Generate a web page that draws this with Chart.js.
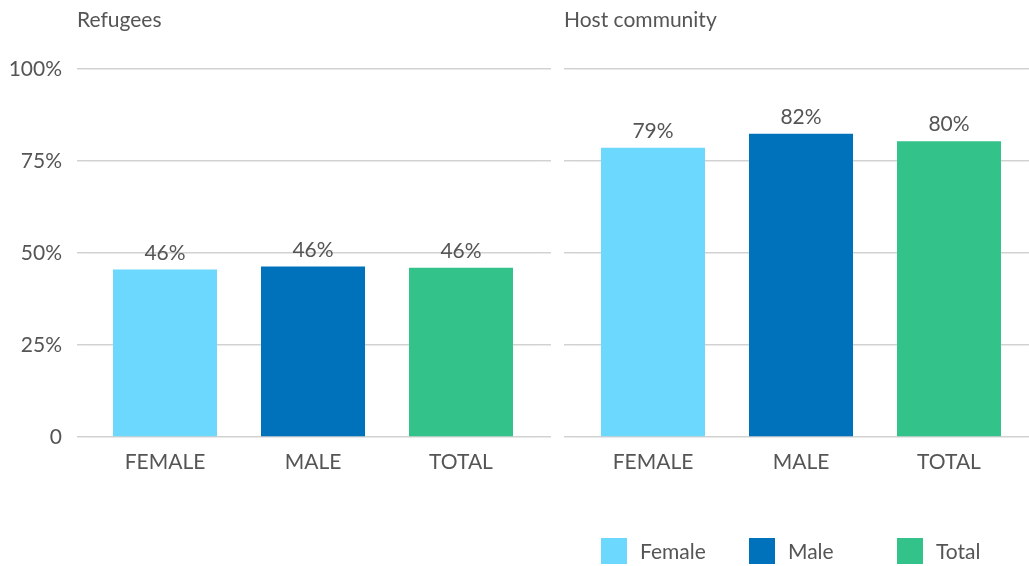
<!DOCTYPE html>
<html>
<head>
<meta charset="utf-8">
<script src="https://cdn.jsdelivr.net/npm/chart.js@4.4.1/dist/chart.umd.min.js"></script>
<style>
  html, body { margin: 0; padding: 0; background: #fff; }
  #wrap { position: relative; width: 1029px; height: 566px; }
  .panel { position: absolute; top: 0; }
  #left { left: 0; }
  #right { left: 560px; }
</style>
</head>
<body>
<div id="wrap">
  <div class="panel" id="left"><canvas id="chartLeft" width="560" height="566"></canvas></div>
  <div class="panel" id="right"><canvas id="chartRight" width="469" height="566"></canvas></div>
</div>
<script>
// ===== data =====
const categories = ['FEMALE', 'MALE', 'TOTAL'];
const legendLabels = ['Female', 'Male', 'Total'];
const refugeeValues = [45.5, 46.3, 46.0];
const hostValues = [78.6, 82.4, 80.4];
const yTicks = [0, 25, 50, 75, 100];

// ===== styles =====
const barColors = ['#6cd8fd', '#0072bc', '#32c28a'];
const textColor = '#555555';
const gridColor = '#d2d2d2';
const fontFamily = 'Lato, sans-serif';
const fontSize = 21;

// panel title, drawn where the grid lines start
const panelTitle = {
  id: 'panelTitle',
  afterDraw(chart, args, opts) {
    const { ctx, chartArea } = chart;
    ctx.save();
    ctx.font = fontSize + 'px ' + fontFamily;
    ctx.fillStyle = textColor;
    ctx.textAlign = 'left';
    ctx.textBaseline = 'alphabetic';
    ctx.fillText(opts.text, chartArea.left - opts.inset, 27);
    ctx.restore();
  }
};

// "46%" labels above bars
const valueLabels = {
  id: 'valueLabels',
  afterDatasetsDraw(chart) {
    const { ctx } = chart;
    const meta = chart.getDatasetMeta(0);
    const values = chart.data.datasets[0].data;
    ctx.save();
    ctx.font = fontSize + 'px ' + fontFamily;
    ctx.fillStyle = textColor;
    ctx.textAlign = 'center';
    ctx.textBaseline = 'alphabetic';
    meta.data.forEach((bar, i) => {
      ctx.fillText(Math.round(values[i]) + '%', bar.x, bar.y - 10);
    });
    ctx.restore();
  }
};

// legend under the right panel, one entry per bar
const barLegend = {
  id: 'barLegend',
  afterDraw(chart, args, opts) {
    if (!opts.show) return;
    const { ctx } = chart;
    const meta = chart.getDatasetMeta(0);
    ctx.save();
    ctx.font = fontSize + 'px ' + fontFamily;
    ctx.textAlign = 'left';
    ctx.textBaseline = 'alphabetic';
    meta.data.forEach((bar, i) => {
      const left = bar.x - bar.width / 2;
      ctx.fillStyle = barColors[i];
      ctx.fillRect(left, opts.top, 26, 26);
      ctx.fillStyle = textColor;
      ctx.fillText(legendLabels[i], left + 39, opts.top + 21);
    });
    ctx.restore();
  }
};

const setTicks = scale => { scale.ticks = yTicks.map(v => ({ value: v })); };

function makeChart(canvasId, values, o) {
  return new Chart(document.getElementById(canvasId), {
    type: 'bar',
    data: {
      labels: categories,
      datasets: [{
        data: values,
        backgroundColor: barColors,
        categoryPercentage: 1,
        barPercentage: 104 / 148
      }]
    },
    options: {
      responsive: false,
      animation: false,
      layout: { padding: { top: 69, bottom: 79, left: 0, right: 0 } },
      plugins: {
        legend: { display: false },
        tooltip: { enabled: false },
        panelTitle: { text: o.title, inset: o.leftTick },
        barLegend: { show: o.legend, top: 538 }
      },
      scales: {
        x: {
          grid: { display: false, drawTicks: false },
          border: { display: false },
          ticks: { color: textColor, font: { family: fontFamily, size: fontSize }, padding: 13 },
          afterFit: s => { s.height = 50; }
        },
        y: {
          min: 0, max: 100,
          afterBuildTicks: setTicks,
          grid: { color: gridColor, lineWidth: 1.5, tickLength: o.leftTick },
          border: { display: false },
          ticks: {
            display: o.yLabels,
            color: textColor,
            font: { family: fontFamily, size: fontSize },
            padding: 15,
            callback: v => v === 0 ? '0' : v + '%'
          },
          afterFit: s => { s.width = o.leftWidth; }
        },
        y2: {
          position: 'right',
          min: 0, max: 100,
          afterBuildTicks: setTicks,
          grid: { color: gridColor, lineWidth: 1.5, tickLength: o.rightTick, drawOnChartArea: false },
          border: { display: false },
          ticks: { display: false },
          afterFit: s => { s.width = o.rightWidth; }
        }
      }
    },
    plugins: [panelTitle, valueLabels, barLegend]
  });
}

makeChart('chartLeft', refugeeValues, {
  title: 'Refugees', yLabels: true, legend: false,
  leftWidth: 91, leftTick: 14, rightWidth: 25, rightTick: 16
});
makeChart('chartRight', hostValues, {
  title: 'Host community', yLabels: false, legend: true,
  leftWidth: 19, leftTick: 15, rightWidth: 6, rightTick: 6
});
</script>
</body>
</html>
